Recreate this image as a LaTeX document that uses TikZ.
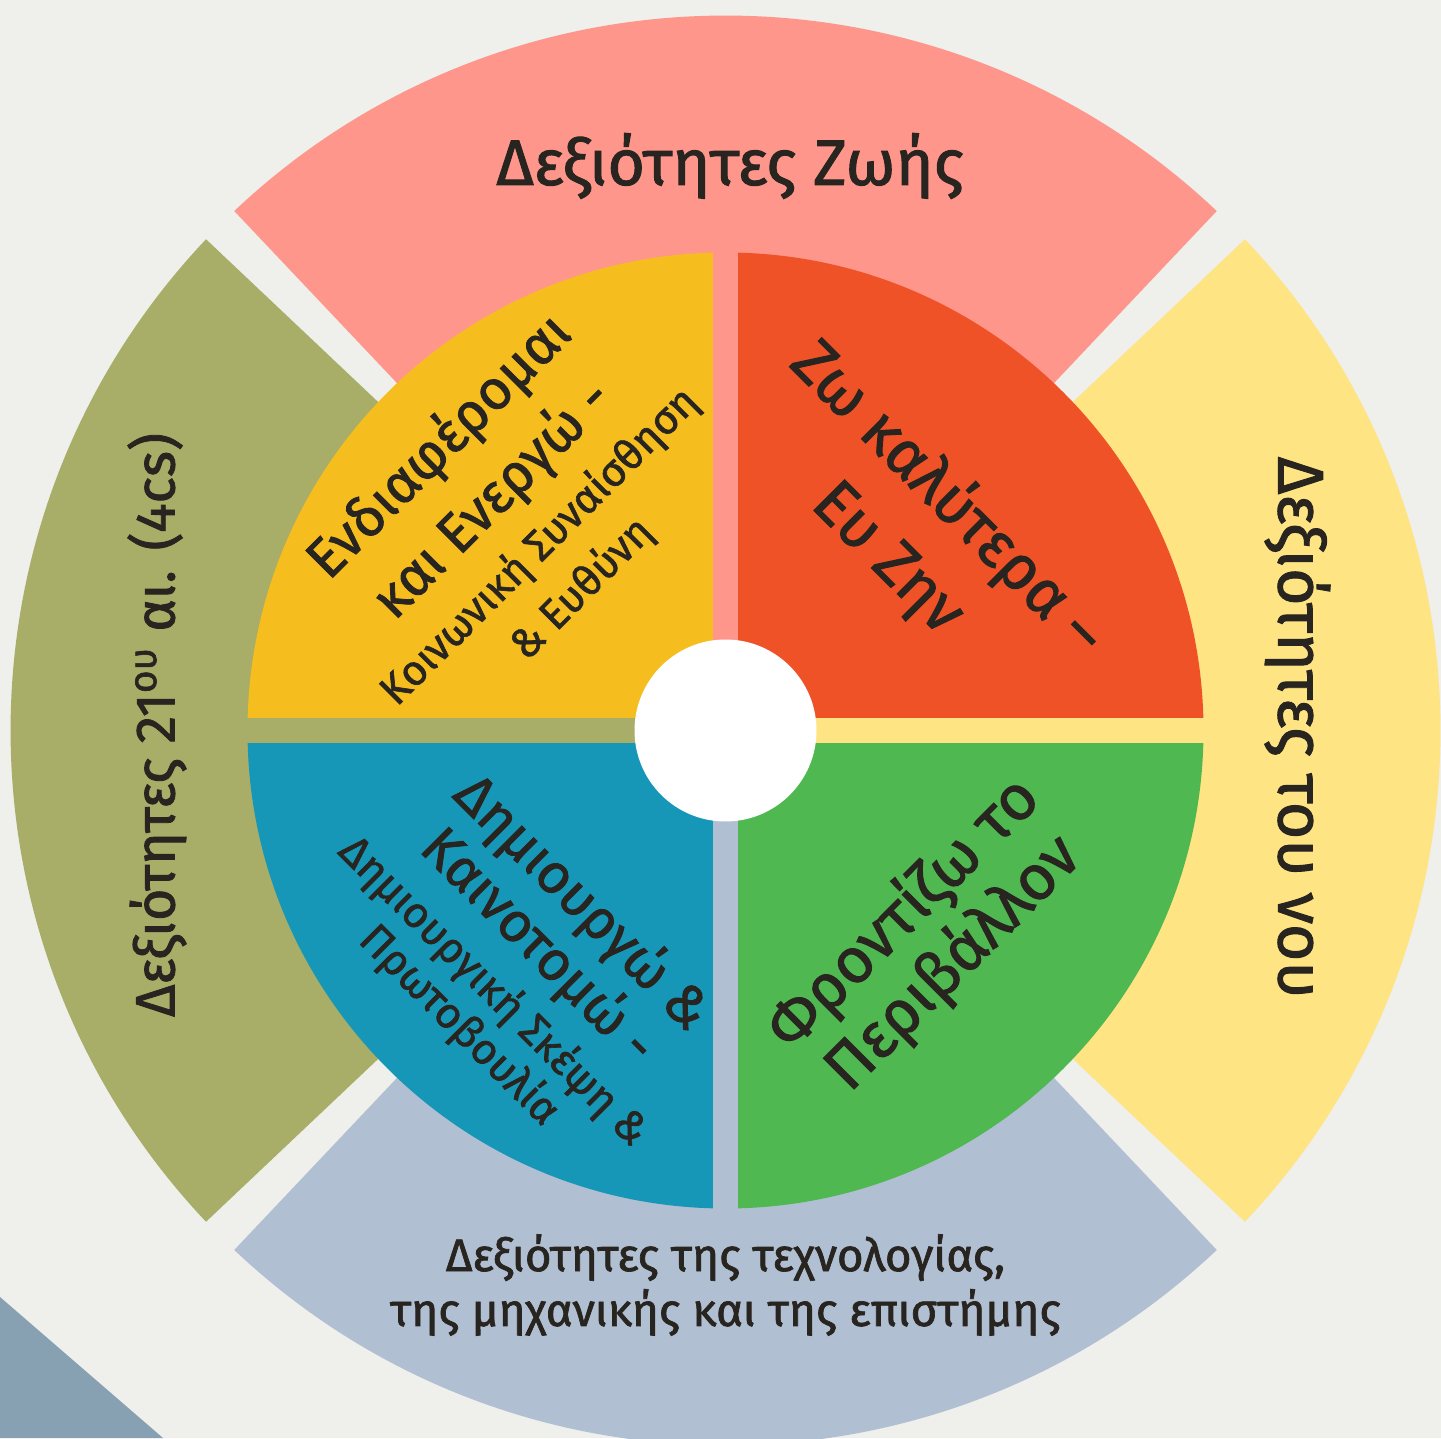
\documentclass[tikz,border=0pt]{standalone}
\usepackage{fontspec}
\setmainfont{Fira Sans}[UprightFeatures={FakeBold=1.5}]
\definecolor{bgpaper}{RGB}{239,239,235}
\definecolor{cornerblue}{RGB}{135,160,178}
\definecolor{lifepink}{RGB}{255,150,139}
\definecolor{mindyellow}{RGB}{255,228,132}
\definecolor{techblue}{RGB}{177,191,211}
\definecolor{skillolive}{RGB}{168,173,104}
\definecolor{actyellow}{RGB}{245,190,30}
\definecolor{liveorange}{RGB}{239,82,38}
\definecolor{createblue}{RGB}{23,151,184}
\definecolor{caregreen}{RGB}{80,184,80}
\definecolor{inkdark}{RGB}{40,36,31}
\tikzset{
  ringtext/.style={
    text=inkdark,
    align=center,
    inner sep=0pt,
    font=\fontsize{18.3}{22}\selectfont
    },
  sidetext/.style={
    text=inkdark,
    align=center,
    inner sep=0pt,
    font=\fontsize{15.8}{20}\selectfont
    },
  techtext/.style={
    text=inkdark,
    align=center,
    inner sep=0pt,
    font=\fontsize{13}{15.6}\selectfont
    },
  quadtext/.style 2 args={
    text=inkdark,
    align=center,
    inner sep=0pt,
    font=\fontsize{#1}{#2}\selectfont
    },
}

\begin{document}
\begin{tikzpicture}
\useasboundingbox (-7.255,-7.075) rectangle (7.155,7.305);
\fill[bgpaper] (-7.255,-7.075) rectangle (7.155,7.305);
\fill[cornerblue] (-7.255,-5.665) -- (-5.625,-7.075) -- (-7.255,-7.075) -- cycle;

% outer ring
\fill[lifepink] (0,0) -- (46.6:7.15) arc[start angle=46.6, end angle=133.4, radius=7.15] -- cycle;
\fill[skillolive] (0,0) -- (136.6:7.15) arc[start angle=136.6, end angle=223.4, radius=7.15] -- cycle;
\fill[techblue] (0,0) -- (226.6:7.15) arc[start angle=226.6, end angle=313.4, radius=7.15] -- cycle;
\fill[mindyellow] (0,0) -- (-43.4:7.15) arc[start angle=-43.4, end angle=43.4, radius=7.15] -- cycle;

% inner quadrants
\begin{scope}
\clip (0,0) circle (4.78);
\fill[actyellow] (-0.125,0.125) rectangle (-5,5);
\fill[liveorange] (0.125,0.125) rectangle (5,5);
\fill[createblue] (-0.125,-0.125) rectangle (-5,-5);
\fill[caregreen] (0.125,-0.125) rectangle (5,-5);
\end{scope}
\fill[white] (0,0) circle (0.91);

\node[ringtext, anchor=base] (life) at (0.045,5.455) {Δεξιότητες Ζωής};
\node[ringtext, rotate=-90] (mind) at (5.72,0.03) {Δεξιότητες του νου};
\node[sidetext, rotate=90] (skills) at (-5.685,0.055) {Δεξιότητες 21\textsuperscript{ου} αι. (4cs)};
\node[techtext] (tech) at (0,-5.545) {Δεξιότητες της τεχνολογίας,\\της μηχανικής και της επιστήμης};

\begin{scope}[shift={(-2.12,2.10)}, rotate=45, transform shape]
\node[quadtext={15.8}{21.3}] (act) at (0,0.665) {Ενδιαφέρομαι\\και Ενεργώ -};
\node[quadtext={12}{17}] (actsub) at (0,-0.67) {Κοινωνική Συναίσθηση\\\& Ευθύνη};
\end{scope}

\begin{scope}[shift={(1.925,2.02)}, rotate=-45, transform shape]
\node[quadtext={18}{24}] (live) at (0,0) {Ζω καλύτερα –\\Ευ Ζην};
\end{scope}

\begin{scope}[shift={(-2.083,-2.37)}, rotate=-45, transform shape]
\node[quadtext={15.8}{17.5}] (create) at (0,0.6) {Δημιουργώ \&\\Καινοτομώ -};
\node[quadtext={12.2}{13.7}] (createsub) at (0,-0.58) {Δημιουργική Σκέψη \&\\Πρωτοβουλία};
\end{scope}

\begin{scope}[shift={(2.03,-2.08)}, rotate=45, transform shape]
\node[quadtext={18}{20}] (care) at (0,0) {Φροντίζω το\\Περιβάλλον};
\end{scope}
\end{tikzpicture}
\end{document}
